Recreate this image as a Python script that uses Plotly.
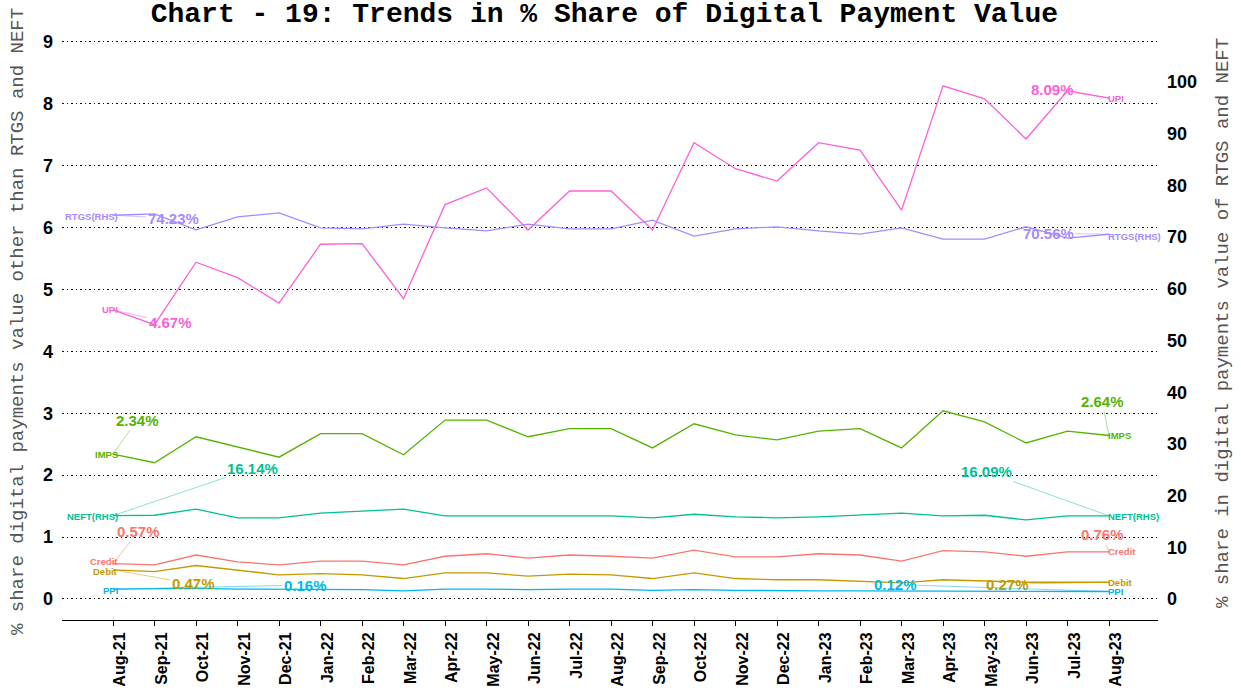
import plotly.graph_objects as go

months = ["Aug-21","Sep-21","Oct-21","Nov-21","Dec-21","Jan-22","Feb-22","Mar-22","Apr-22",
          "May-22","Jun-22","Jul-22","Aug-22","Sep-22","Oct-22","Nov-22","Dec-22","Jan-23",
          "Feb-23","Mar-23","Apr-23","May-23","Jun-23","Jul-23","Aug-23"]

upi = [4.67,4.43,5.44,5.19,4.78,5.73,5.74,4.85,6.37,6.64,5.96,6.59,6.59,5.96,7.37,6.95,6.75,
       7.37,7.25,6.28,8.29,8.08,7.43,8.21,8.09]
imps = [2.34,2.20,2.62,2.46,2.29,2.67,2.67,2.33,2.89,2.89,2.62,2.75,2.75,2.44,2.83,2.65,2.57,
        2.71,2.75,2.44,3.04,2.86,2.52,2.71,2.64]
credit = [0.57,0.55,0.71,0.60,0.55,0.61,0.61,0.55,0.69,0.73,0.66,0.71,0.69,0.66,0.79,0.68,0.68,
          0.73,0.71,0.61,0.78,0.76,0.69,0.76,0.76]
debit = [0.47,0.44,0.54,0.46,0.39,0.41,0.39,0.33,0.42,0.42,0.37,0.40,0.39,0.33,0.42,0.33,0.31,
         0.31,0.29,0.26,0.31,0.29,0.27,0.27,0.27]
ppi = [0.16,0.17,0.17,0.16,0.16,0.16,0.15,0.13,0.16,0.16,0.15,0.16,0.16,0.14,0.15,0.14,0.13,
       0.13,0.13,0.13,0.13,0.13,0.12,0.12,0.12]
rtgs = [74.23,74.5,71.4,73.9,74.7,71.8,71.6,72.5,71.8,71.2,72.5,71.6,71.6,73.3,70.2,71.6,72.0,
        71.2,70.6,71.8,69.6,69.6,72.0,69.8,70.56]
neft = [16.14,16.2,17.4,15.7,15.7,16.6,17.0,17.4,16.1,16.1,16.1,16.1,16.1,15.7,16.4,15.9,15.7,
        15.9,16.2,16.6,16.1,16.2,15.3,16.1,16.09]

left_ticks = [0, 1, 2, 3, 4, 5, 6, 7, 8, 9]
right_ticks = [0, 10, 20, 30, 40, 50, 60, 70, 80, 90, 100]

# name, values, axis, colour, connector colour, first-label offset, last-label offset, name y-shifts
series = [
    ("UPI", upi, "y", "#FB61D7", "rgba(251,97,215,0.55)", (57, 13), (-57, -9), (0, 0)),
    ("RTGS(RHS)", rtgs, "y2", "#A58AFF", "rgba(165,138,255,0.55)", (60, 3), (-61, -1), (-1, -2)),
    ("IMPS", imps, "y", "#53B400", "rgba(83,180,0,0.5)", (24, -34), (-7, -34), (0, 0)),
    ("NEFT(RHS)", neft, "y2", "#00C094", "rgba(0,192,148,0.5)", (139, -47), (-123, -44), (-1, -1)),
    ("Credit", credit, "y", "#F8766D", "rgba(248,118,109,0.55)", (25, -32), (-7, -17), (2, 0)),
    ("Debit", debit, "y", "#C49A00", "rgba(196,154,0,0.55)", (80, 14), (-102, 2), (-2, 0)),
    ("PPI", ppi, "y", "#00B6EB", "rgba(0,182,235,0.55)", (192, -4), (-214, -7), (-1, 0)),
]

MONO = "Courier New, Liberation Mono, monospace"

fig = go.Figure()
annotations = []
for name, vals, ax_, col, ccol, off0, off1, ysh in series:
    fig.add_trace(go.Scatter(x=months, y=vals, mode="lines", name=name, yaxis=ax_,
                             line=dict(color=col, width=1.3), showlegend=False))
    yref = ax_
    annotations.append(dict(x=months[0], y=vals[0], xref="x", yref=yref, text=name,
                            showarrow=False, xanchor="right", xshift=7, yshift=ysh[0],
                            font=dict(family="Arial", size=9.5, color=col, weight="bold")))
    annotations.append(dict(x=months[-1], y=vals[-1], xref="x", yref=yref, text=name,
                            showarrow=False, xanchor="left", xshift=-3, yshift=ysh[1],
                            font=dict(family="Arial", size=9.5, color=col, weight="bold")))
    for idx, off in ((0, off0), (-1, off1)):
        annotations.append(dict(x=months[idx], y=vals[idx], xref="x", yref=yref,
                                text=f"{vals[idx]:.2f}%", showarrow=True, arrowhead=0,
                                arrowwidth=0.9, arrowcolor=ccol, ax=off[0], ay=off[1],
                                font=dict(family="Arial", size=15, color=col, weight="bold")))

W, H = 1241, 690
L, R, T, B = 62, 83, 35, 70
pw, ph = W - L - R, H - T - B
def px_to_paper(px, py):
    return (px - L) / pw, 1 - (py - T) / ph

lx, ly = px_to_paper(18, 322)
rx, ry = px_to_paper(1223, 323)
annotations.append(dict(x=lx, y=ly, xref="paper", yref="paper", showarrow=False, textangle=-90,
                        text="% share digital payments value other than RTGS and NEFT",
                        xanchor="center", yanchor="middle",
                        font=dict(family=MONO, size=19, color="#555555")))
annotations.append(dict(x=rx, y=ry, xref="paper", yref="paper", showarrow=False, textangle=-90,
                        text="% share in digital payments value of RTGS and NEFT",
                        xanchor="center", yanchor="middle",
                        font=dict(family=MONO, size=19, color="#555555")))

fig.update_layout(
    width=W, height=H,
    paper_bgcolor="white", plot_bgcolor="white",
    margin=dict(l=L, r=R, t=T, b=B, autoexpand=False),
    title=dict(text="Chart - 19: Trends in % Share of Digital Payment Value",
               x=0.487, xanchor="center", y=0.997, yanchor="top", yref="container",
               font=dict(family=MONO, size=28, color="black", weight="bold")),
    xaxis=dict(type="category", range=[-1.23, 25.18], showgrid=False, automargin=False,
               showline=True, linecolor="black", linewidth=1,
               ticks="outside", ticklen=5, tickcolor="black", tickangle=-90,
               ticklabelshift=7,
               tickfont=dict(family="Arial", size=16, color="black", weight="bold"),
               zeroline=False),
    yaxis=dict(range=[-0.34, 9.11], tickvals=left_ticks, automargin=False,
               showgrid=True, gridcolor="#111111", griddash="1.5px,3px", gridwidth=1,
               showline=False, zeroline=False, ticks="", ticklabelstandoff=8,
               tickfont=dict(family="Arial", size=18, color="black", weight="bold")),
    yaxis2=dict(range=[-4.06, 109.1], tickvals=right_ticks, automargin=False,
                overlaying="y", side="right", showgrid=False, zeroline=False, showline=False,
                ticks="", ticklabelstandoff=8,
                tickfont=dict(family="Arial", size=18, color="black", weight="bold")),
    annotations=annotations,
)

fig.write_html("out.html", config={"displayModeBar": False},
               post_script="document.body.style.margin='0';")
